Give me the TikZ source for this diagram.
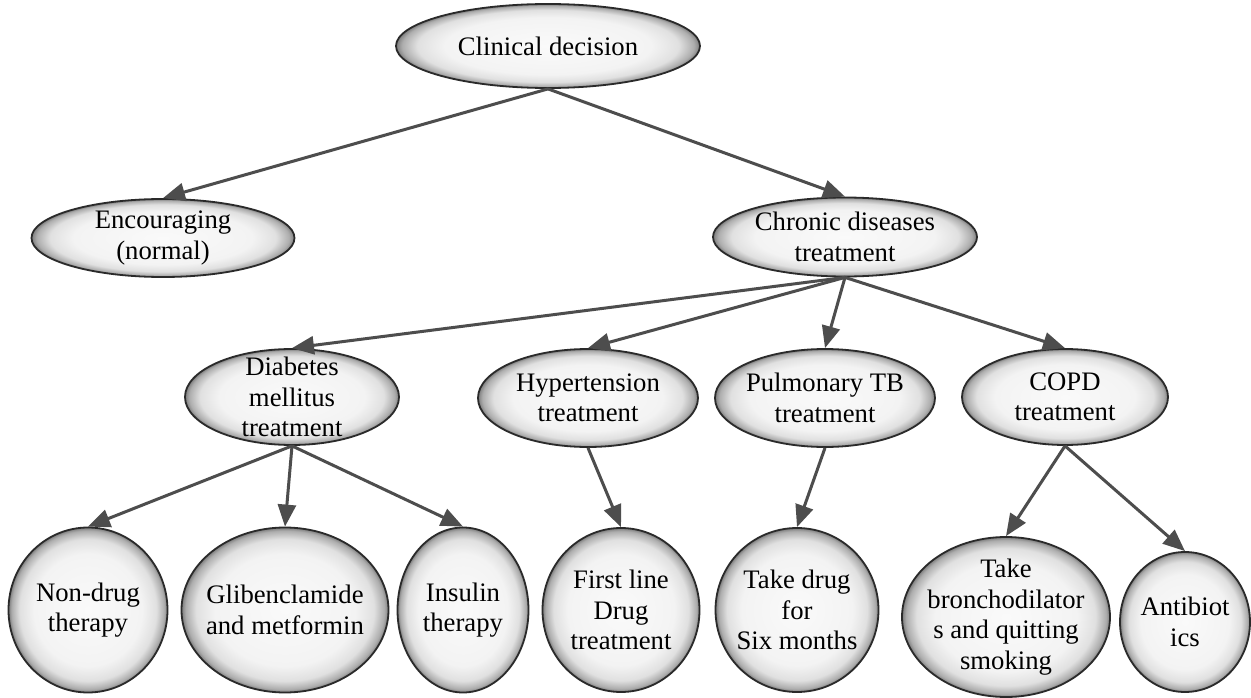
\documentclass[tikz,border=0pt]{standalone}
\usepackage{fontspec}
\setmainfont{Liberation Serif}
\usetikzlibrary{shapes.geometric,arrows.meta}
\definecolor{rimin}{HTML}{FAFAFA}
\definecolor{rimin2}{HTML}{F3F3F3}
\definecolor{rimmid}{HTML}{E0E0E0}
\definecolor{rimdark}{HTML}{ADADAD}
\definecolor{rimedge}{HTML}{7C7C7C}
\definecolor{bordgray}{HTML}{2A2A2A}
\definecolor{arrgray}{HTML}{4D4D4D}
\pgfdeclareradialshading{rimshade}{\pgfpoint{0bp}{0bp}}{color(0bp)=(rimin); color(17bp)=(rimin2); color(21.5bp)=(rimmid); color(24bp)=(rimdark); color(25bp)=(rimedge); color(50bp)=(rimedge)}
\tikzset{
  bub/.style={ellipse, draw=bordgray, line width=1.8pt, shade, shading=rimshade, inner sep=0pt},
  txt/.style={align=center, font=\fontsize{26.7}{30.5}\selectfont, inner sep=0pt, text=black},
  arr/.style={draw=arrgray, line width=3pt, -{Triangle[length=22pt,width=18pt]}}
}
\begin{document}
\begin{tikzpicture}[x=1pt,y=-1pt]
\fill[white] (0,0) rectangle (1251,698);
\useasboundingbox (0,0) rectangle (1251,698);
% level 0
\node[bub, minimum width=304pt, minimum height=84pt] (cd) at (548,46) {};
\node[txt] (cdt) at (cd) {Clinical decision};
% level 1
\node[bub, minimum width=263pt, minimum height=78pt] (enc) at (163,238) {};
\node[txt] (enct) at (enc) {Encouraging\\(normal)};
\node[bub, minimum width=264pt, minimum height=79pt] (chr) at (845,237) {};
\node[txt] (chrt) at (chr) {Chronic diseases\\treatment};
% level 2
\node[bub, minimum width=214pt, minimum height=96pt] (dm) at (292,397) {};
\node[txt] (dmt) at (dm) {Diabetes\\mellitus\\treatment};
\node[bub, minimum width=220pt, minimum height=98pt] (ht) at (588,398) {};
\node[txt] (htt) at (ht) {Hypertension\\treatment};
\node[bub, minimum width=220pt, minimum height=98pt] (tb) at (825,398) {};
\node[txt] (tbt) at (tb) {Pulmonary TB\\treatment};
\node[bub, minimum width=206pt, minimum height=96pt] (copd) at (1065,397) {};
\node[txt] (copdt) at (copd) {COPD\\treatment};
% level 3
\node[bub, minimum width=159pt, minimum height=165pt] (nd) at (88,610) {};
\node[txt] (ndt) at (nd) {Non-drug\\therapy};
\node[bub, minimum width=207pt, minimum height=165pt] (gm) at (285,610) {};
\node[txt] (gmt) at (gm) {Glibenclamide\\and metformin};
\node[bub, minimum width=131pt, minimum height=165pt] (ins) at (463,610) {};
\node[txt] (inst) at (ins) {Insulin\\therapy};
\node[bub, minimum width=157pt, minimum height=164pt] (fl) at (621,610) {};
\node[txt] (flt) at (fl) {First line\\Drug\\treatment};
\node[bub, minimum width=163pt, minimum height=164pt] (td) at (797,610) {};
\node[txt] (tdt) at (td) {Take drug\\for\\Six months};
\node[bub, minimum width=208pt, minimum height=160pt] (br) at (1006,617) {};
\node[txt] (brt) at (br) {Take\\bronchodilator\\s and quitting\\smoking};
\node[bub, minimum width=130pt, minimum height=140pt] (ab) at (1185,622) {};
\node[txt] (abt) at (ab) {Antibiot\\ics};
% connectors
\draw[arr] (cd.south) -- (enc.north);
\draw[arr] (cd.south) -- (chr.north);
\draw[arr] (chr.south) -- (dm.north);
\draw[arr] (chr.south) -- (ht.north);
\draw[arr] (chr.south) -- (tb.north);
\draw[arr] (chr.south) -- (copd.north);
\draw[arr] (dm.south) -- (nd.north);
\draw[arr] (dm.south) -- (gm.north);
\draw[arr] (dm.south) -- (ins.north);
\draw[arr] (ht.south) -- (fl.north);
\draw[arr] (tb.south) -- (td.north);
\draw[arr] (copd.south) -- (br.north);
\draw[arr] (copd.south) -- (ab.north);
\end{tikzpicture}
\end{document}
